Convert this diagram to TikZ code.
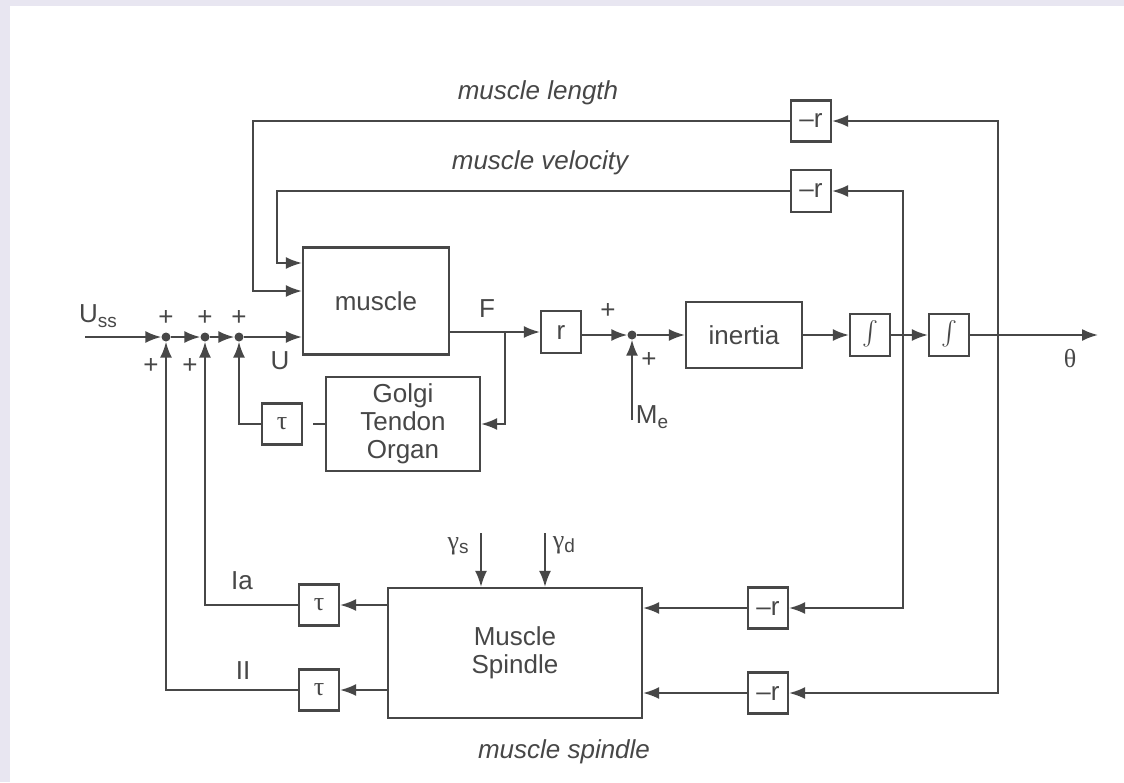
\documentclass[tikz,border=0pt]{standalone}
\usepackage{fontspec}
\usepackage{graphicx}
\setmainfont{Liberation Sans}
\newfontfamily\grk{Liberation Serif}
\usetikzlibrary{arrows.meta}
\definecolor{ink}{HTML}{474747}
\definecolor{lav}{HTML}{E8E6F1}
\newcommand{\sbs}[1]{\raisebox{-0.4ex}{\fontsize{19}{19}\selectfont #1}}
\newcommand{\bigint}{\raisebox{-0.5ex}{\scalebox{2.4}{$\int$}}}
\begin{document}
\begin{tikzpicture}[x=1pt,y=-1pt,
  font=\fontsize{26}{28}\selectfont,
  every node/.style={text=ink},
  blk/.style={draw=ink, line width=2.2pt, inner sep=0pt},
  gain/.style={draw=ink, line width=2.2pt, inner sep=0pt, minimum width=40pt, minimum height=41pt},
  sum/.style={circle, fill=ink, inner sep=0pt, minimum size=9pt},
  arr/.style={draw=ink, line width=2pt, -{Latex[length=16pt,width=12pt]}},
  ln/.style={draw=ink, line width=2pt},
  lbl/.style={inner sep=0pt}]
% background
\fill[lav] (0,0) rectangle (1124,782);
\fill[white] (10,6) rectangle (1124,782);
\useasboundingbox (0,0) rectangle (1124,782);

% blocks
\node[blk, minimum width=146pt, minimum height=107pt] (muscle) at (376,301) {muscle};
\node[blk, minimum width=154pt, minimum height=94pt, align=center] (golgi) at (403,424) {Golgi\\Tendon\\Organ};
\node[gain] (tauG) at (282,424) {\grk τ};
\node[gain, minimum height=42pt] (r) at (561,332) {r};
\node[sum] (s4) at (632,335) {};
\node[blk, minimum width=116pt, minimum height=66pt] (inertia) at (744,335) {inertia};
\node[gain, minimum height=42pt] (i1) at (870,335) {\bigint};
\node[gain, minimum height=42pt] (i2) at (949,335) {\bigint};
\node[gain] (L1) at (811,121) {–r};
\node[gain, minimum height=42pt] (L2) at (811,191) {–r};
\node[gain] (B1) at (768,608) {–r};
\node[gain] (B2) at (768,693) {–r};
\node[blk, minimum width=254pt, minimum height=130pt, align=center] (spindle) at (515,653) {Muscle\\Spindle};
\node[gain] (t1) at (319,605) {\grk τ};
\node[gain] (t2) at (319,690) {\grk τ};
\node[sum] (s1) at (166,337) {};
\node[sum] (s2) at (205,337) {};
\node[sum] (s3) at (239,337) {};

% coordinates
\coordinate (uin) at (85,337);
\coordinate (br) at (505,332);
\coordinate (oend) at (1098,335);
\coordinate (tV) at (903,335);
\coordinate (tL) at (998,335);
\coordinate (cL) at (253,291);
\coordinate (cV) at (277,263);
\coordinate (me) at (632,420);
\coordinate (gs) at (481,533);
\coordinate (gd) at (545,533);

% connectors
\draw[arr] (uin) -- (s1);
\draw[arr] (s1) -- (s2);
\draw[arr] (s2) -- (s3);
\draw[arr] (s3) -- (muscle.west |- s3);
\draw[arr] (muscle.east |- r) -- (r);
\draw[arr] (br) |- (golgi.east);
\draw[arr] (r.east |- s4) -- (s4);
\draw[arr] (me) -- (s4);
\draw[arr] (s4) -- (inertia);
\draw[arr] (inertia) -- (i1);
\draw[arr] (i1) -- (i2);
\draw[arr] (i2) -- (oend);
\draw[arr] (tV) |- (L2);
\draw[arr] (tV) |- (B1);
\draw[arr] (tL) |- (L1);
\draw[arr] (tL) |- (B2);
\draw[arr] (L1) -| (cL) -- (muscle.west |- cL);
\draw[arr] (L2) -| (cV) -- (muscle.west |- cV);
\draw[arr] (B1) -- (spindle.east |- B1);
\draw[arr] (B2) -- (spindle.east |- B2);
\draw[arr] (spindle.west |- t1) -- (t1);
\draw[arr] (spindle.west |- t2) -- (t2);
\draw[arr] (t1) -| (s2);
\draw[arr] (t2) -| (s1);
\draw[arr] (tauG) -| (s3);
\draw[ln, shorten >=10pt] (golgi) -- (tauG);
\draw[arr] (gs) -- (gs |- spindle.north);
\draw[arr] (gd) -- (gd |- spindle.north);

% labels
\node[lbl] (luss) at (98,316) {U\sbs{ss}};
\node[lbl] (lU) at (280,361) {U};
\node[lbl] (lF) at (487,309) {F};
\node[lbl] (lth) at (1070,359) {\grk θ};
\node[lbl] (lMe) at (652,417) {M\sbs{e}};
\node[lbl] (p1) at (166,318) {+};
\node[lbl] (p2) at (205,318) {+};
\node[lbl] (p3) at (239,318) {+};
\node[lbl] (p4) at (151,366) {+};
\node[lbl] (p5) at (190,366) {+};
\node[lbl] (p6) at (608,311) {+};
\node[lbl] (p7) at (649,360) {+};
\node[lbl] (lIa) at (242,581) {Ia};
\node[lbl] (lII) at (243,671) {II};
\node[lbl] (lgs) at (458,546) {\grk γ\sbs{\normalfont s}};
\node[lbl] (lgd) at (564,545) {\grk γ\sbs{\normalfont d}};
\node[lbl] (tlen) at (538,93) {\itshape muscle length};
\node[lbl] (tvel) at (540,163) {\itshape muscle velocity};
\node[lbl] (tspin) at (564,752) {\itshape muscle spindle};
\end{tikzpicture}
\end{document}
